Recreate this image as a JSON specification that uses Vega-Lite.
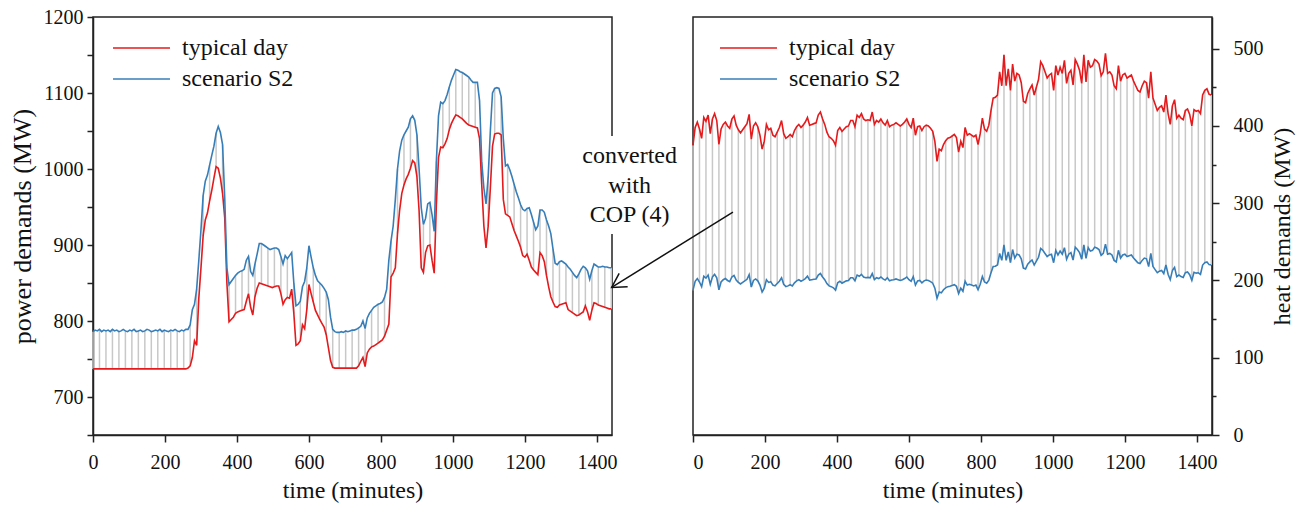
{
"$schema":"https://vega.github.io/schema/vega-lite/v6.json",
"background":"white",
"padding":{"left":8,"top":6,"right":4,"bottom":4},
"bounds":"flush",
"spacing":81,
"config":{
 "font":"Liberation Serif",
 "view":{"stroke":"#222","strokeWidth":1.5},
 "axis":{"grid":false,"labelFont":"Liberation Serif","labelFontSize":20,"labelColor":"#111","titleFont":"Liberation Serif","titleFontSize":24,"titleFontWeight":"normal","titleColor":"#111","domainColor":"#222","domainWidth":1.5,"tickColor":"#222","tickWidth":1.5},
 "legend":{"orient":"none","title":null,"symbolType":"M-3.5,0L3.5,0","symbolSize":265,"symbolStrokeWidth":1.6,"labelFont":"Liberation Serif","labelFontSize":24,"labelColor":"#111","labelOffset":28.5,"padding":0,"rowPadding":7,"legendY":19}
},
"datasets":{"d":[
{"t":0,"pt":737,"ps":786,"ht":375,"hs":187.5},
{"t":6,"pt":737,"ps":788,"ht":398,"hs":199},
{"t":12,"pt":737,"ps":787,"ht":405,"hs":202.5},
{"t":18,"pt":737,"ps":789,"ht":396,"hs":198},
{"t":24,"pt":737,"ps":786,"ht":384,"hs":192},
{"t":30,"pt":737,"ps":788,"ht":411,"hs":205.5},
{"t":36,"pt":737,"ps":787,"ht":406,"hs":203},
{"t":42,"pt":737,"ps":788,"ht":414,"hs":207},
{"t":48,"pt":737,"ps":786,"ht":390,"hs":195},
{"t":54,"pt":737,"ps":789,"ht":409,"hs":204.5},
{"t":60,"pt":737,"ps":787,"ht":416,"hs":208},
{"t":66,"pt":737,"ps":788,"ht":407,"hs":203.5},
{"t":72,"pt":737,"ps":786,"ht":376,"hs":188},
{"t":78,"pt":737,"ps":787,"ht":396,"hs":198},
{"t":84,"pt":737,"ps":789,"ht":402,"hs":201},
{"t":90,"pt":737,"ps":787,"ht":405,"hs":202.5},
{"t":96,"pt":737,"ps":786,"ht":400,"hs":200},
{"t":102,"pt":737,"ps":788,"ht":397,"hs":198.5},
{"t":108,"pt":737,"ps":787,"ht":409,"hs":204.5},
{"t":114,"pt":737,"ps":789,"ht":413,"hs":206.5},
{"t":120,"pt":737,"ps":786,"ht":401,"hs":200.5},
{"t":126,"pt":737,"ps":787,"ht":395,"hs":197.5},
{"t":132,"pt":737,"ps":788,"ht":391,"hs":195.5},
{"t":138,"pt":737,"ps":786,"ht":395,"hs":197.5},
{"t":144,"pt":737,"ps":787,"ht":399,"hs":199.5},
{"t":150,"pt":737,"ps":789,"ht":403,"hs":201.5},
{"t":156,"pt":737,"ps":788,"ht":415,"hs":207.5},
{"t":162,"pt":737,"ps":786,"ht":383,"hs":191.5},
{"t":168,"pt":737,"ps":787,"ht":400,"hs":200},
{"t":174,"pt":737,"ps":788,"ht":404,"hs":202},
{"t":180,"pt":737,"ps":787,"ht":399,"hs":199.5},
{"t":186,"pt":737,"ps":789,"ht":388,"hs":194},
{"t":192,"pt":737,"ps":786,"ht":370,"hs":185},
{"t":198,"pt":737,"ps":788,"ht":380,"hs":190},
{"t":204,"pt":737,"ps":787,"ht":402,"hs":201},
{"t":210,"pt":737,"ps":786,"ht":395,"hs":197.5},
{"t":216,"pt":737,"ps":788,"ht":397,"hs":198.5},
{"t":222,"pt":737,"ps":787,"ht":388,"hs":194},
{"t":228,"pt":737,"ps":789,"ht":386,"hs":193},
{"t":234,"pt":737,"ps":787,"ht":392,"hs":196},
{"t":240,"pt":737,"ps":786,"ht":398,"hs":199},
{"t":246,"pt":737,"ps":788,"ht":407,"hs":203.5},
{"t":252,"pt":737,"ps":787,"ht":390,"hs":195},
{"t":258,"pt":737,"ps":789,"ht":384,"hs":192},
{"t":264,"pt":738,"ps":789,"ht":386,"hs":193},
{"t":270,"pt":741,"ps":795,"ht":389,"hs":194.5},
{"t":276,"pt":752,"ps":815,"ht":386,"hs":193},
{"t":282,"pt":774,"ps":822,"ht":394,"hs":197},
{"t":288,"pt":768,"ps":842,"ht":399,"hs":199.5},
{"t":294,"pt":830,"ps":880,"ht":402,"hs":201},
{"t":300,"pt":870,"ps":920,"ht":398,"hs":199},
{"t":306,"pt":912,"ps":965,"ht":401,"hs":200.5},
{"t":312,"pt":933,"ps":984,"ht":405,"hs":202.5},
{"t":318,"pt":942,"ps":992,"ht":411,"hs":205.5},
{"t":324,"pt":958,"ps":1005,"ht":401,"hs":200.5},
{"t":330,"pt":972,"ps":1018,"ht":402,"hs":201},
{"t":336,"pt":988,"ps":1030,"ht":403,"hs":201.5},
{"t":342,"pt":1003,"ps":1047,"ht":404,"hs":202},
{"t":348,"pt":1001,"ps":1056,"ht":414,"hs":207},
{"t":354,"pt":988,"ps":1048,"ht":418,"hs":209},
{"t":360,"pt":968,"ps":1032,"ht":409,"hs":204.5},
{"t":366,"pt":936,"ps":962,"ht":402,"hs":201},
{"t":372,"pt":850,"ps":870,"ht":392,"hs":196},
{"t":378,"pt":799,"ps":848,"ht":386,"hs":193},
{"t":384,"pt":802,"ps":852,"ht":384,"hs":192},
{"t":390,"pt":805,"ps":856,"ht":381,"hs":190.5},
{"t":396,"pt":810,"ps":860,"ht":375,"hs":187.5},
{"t":402,"pt":812,"ps":863,"ht":394,"hs":197},
{"t":408,"pt":813,"ps":865,"ht":398,"hs":199},
{"t":414,"pt":814,"ps":866,"ht":393,"hs":196.5},
{"t":420,"pt":815,"ps":868,"ht":396,"hs":198},
{"t":426,"pt":826,"ps":880,"ht":399,"hs":199.5},
{"t":432,"pt":836,"ps":885,"ht":400,"hs":200},
{"t":438,"pt":818,"ps":865,"ht":407,"hs":203.5},
{"t":444,"pt":808,"ps":860,"ht":407,"hs":203.5},
{"t":450,"pt":832,"ps":875,"ht":399,"hs":199.5},
{"t":456,"pt":843,"ps":888,"ht":414,"hs":207},
{"t":462,"pt":850,"ps":902,"ht":411,"hs":205.5},
{"t":468,"pt":849,"ps":902,"ht":416,"hs":208},
{"t":474,"pt":848,"ps":900,"ht":409,"hs":204.5},
{"t":480,"pt":847,"ps":898,"ht":407,"hs":203.5},
{"t":486,"pt":846,"ps":896,"ht":408,"hs":204},
{"t":492,"pt":845,"ps":894,"ht":407,"hs":203.5},
{"t":498,"pt":844,"ps":895,"ht":418,"hs":209},
{"t":504,"pt":845,"ps":896,"ht":402,"hs":201},
{"t":510,"pt":846,"ps":896,"ht":407,"hs":203.5},
{"t":516,"pt":846,"ps":894,"ht":405,"hs":202.5},
{"t":522,"pt":836,"ps":885,"ht":409,"hs":204.5},
{"t":528,"pt":822,"ps":875,"ht":404,"hs":202},
{"t":534,"pt":828,"ps":886,"ht":401,"hs":200.5},
{"t":540,"pt":831,"ps":882,"ht":407,"hs":203.5},
{"t":546,"pt":830,"ps":886,"ht":399,"hs":199.5},
{"t":552,"pt":842,"ps":890,"ht":401,"hs":200.5},
{"t":558,"pt":810,"ps":850,"ht":402,"hs":201},
{"t":564,"pt":768,"ps":820,"ht":404,"hs":202},
{"t":570,"pt":770,"ps":822,"ht":402,"hs":201},
{"t":576,"pt":774,"ps":826,"ht":400,"hs":200},
{"t":582,"pt":795,"ps":845,"ht":402,"hs":201},
{"t":588,"pt":790,"ps":852,"ht":405,"hs":202.5},
{"t":594,"pt":815,"ps":870,"ht":409,"hs":204.5},
{"t":600,"pt":848,"ps":899,"ht":402,"hs":201},
{"t":606,"pt":836,"ps":884,"ht":398,"hs":199},
{"t":612,"pt":825,"ps":870,"ht":410,"hs":205},
{"t":618,"pt":814,"ps":860,"ht":388,"hs":194},
{"t":624,"pt":808,"ps":853,"ht":399,"hs":199.5},
{"t":630,"pt":802,"ps":850,"ht":400,"hs":200},
{"t":636,"pt":797,"ps":847,"ht":394,"hs":197},
{"t":642,"pt":792,"ps":843,"ht":399,"hs":199.5},
{"t":648,"pt":782,"ps":838,"ht":401,"hs":200.5},
{"t":654,"pt":765,"ps":828,"ht":400,"hs":200},
{"t":660,"pt":748,"ps":805,"ht":397,"hs":198.5},
{"t":666,"pt":739,"ps":789,"ht":393,"hs":196.5},
{"t":672,"pt":738,"ps":786,"ht":380,"hs":190},
{"t":678,"pt":738,"ps":785,"ht":354,"hs":177},
{"t":684,"pt":738,"ps":785,"ht":370,"hs":185},
{"t":690,"pt":738,"ps":786,"ht":368,"hs":184},
{"t":696,"pt":738,"ps":785,"ht":376,"hs":188},
{"t":702,"pt":738,"ps":787,"ht":381,"hs":190.5},
{"t":708,"pt":738,"ps":786,"ht":384,"hs":192},
{"t":714,"pt":738,"ps":787,"ht":385,"hs":192.5},
{"t":720,"pt":738,"ps":788,"ht":387,"hs":193.5},
{"t":726,"pt":738,"ps":788,"ht":389,"hs":194.5},
{"t":732,"pt":738,"ps":789,"ht":385,"hs":192.5},
{"t":738,"pt":741,"ps":791,"ht":366,"hs":183},
{"t":744,"pt":747,"ps":793,"ht":380,"hs":190},
{"t":750,"pt":752,"ps":800,"ht":372,"hs":186},
{"t":756,"pt":740,"ps":790,"ht":398,"hs":199},
{"t":762,"pt":758,"ps":804,"ht":388,"hs":194},
{"t":768,"pt":763,"ps":810,"ht":390,"hs":195},
{"t":774,"pt":766,"ps":814,"ht":388,"hs":194},
{"t":780,"pt":767,"ps":818,"ht":386,"hs":193},
{"t":786,"pt":769,"ps":820,"ht":388,"hs":194},
{"t":792,"pt":771,"ps":822,"ht":376,"hs":188},
{"t":798,"pt":773,"ps":823,"ht":390,"hs":195},
{"t":804,"pt":775,"ps":825,"ht":410,"hs":205},
{"t":810,"pt":780,"ps":831,"ht":396,"hs":198},
{"t":816,"pt":788,"ps":842,"ht":393,"hs":196.5},
{"t":822,"pt":796,"ps":880,"ht":401,"hs":200.5},
{"t":828,"pt":858,"ps":905,"ht":420,"hs":210},
{"t":834,"pt":863,"ps":925,"ht":436,"hs":218},
{"t":840,"pt":870,"ps":960,"ht":437,"hs":218.5},
{"t":846,"pt":915,"ps":1000,"ht":440,"hs":220},
{"t":852,"pt":946,"ps":1024,"ht":470,"hs":235},
{"t":858,"pt":968,"ps":1038,"ht":452,"hs":226},
{"t":864,"pt":979,"ps":1045,"ht":492,"hs":246},
{"t":870,"pt":987,"ps":1050,"ht":452,"hs":226},
{"t":876,"pt":993,"ps":1055,"ht":474,"hs":237},
{"t":882,"pt":1001,"ps":1066,"ht":446,"hs":223},
{"t":888,"pt":1011,"ps":1070,"ht":480,"hs":240},
{"t":894,"pt":1008,"ps":1064,"ht":458,"hs":229},
{"t":900,"pt":990,"ps":1045,"ht":468,"hs":234},
{"t":906,"pt":945,"ps":1000,"ht":466,"hs":233},
{"t":912,"pt":870,"ps":949,"ht":456,"hs":228},
{"t":918,"pt":864,"ps":927,"ht":432,"hs":216},
{"t":924,"pt":890,"ps":935,"ht":430,"hs":215},
{"t":930,"pt":899,"ps":954,"ht":442,"hs":221},
{"t":936,"pt":900,"ps":956,"ht":448,"hs":224},
{"t":942,"pt":880,"ps":940,"ht":453,"hs":226.5},
{"t":948,"pt":863,"ps":918,"ht":440,"hs":220},
{"t":954,"pt":954,"ps":1010,"ht":450,"hs":225},
{"t":960,"pt":1015,"ps":1070,"ht":460,"hs":230},
{"t":966,"pt":1029,"ps":1088,"ht":483,"hs":241.5},
{"t":972,"pt":1028,"ps":1086,"ht":478,"hs":239},
{"t":978,"pt":1033,"ps":1090,"ht":470,"hs":235},
{"t":984,"pt":1040,"ps":1098,"ht":462,"hs":231},
{"t":990,"pt":1052,"ps":1108,"ht":466,"hs":233},
{"t":996,"pt":1060,"ps":1117,"ht":468,"hs":234},
{"t":1002,"pt":1066,"ps":1124,"ht":446,"hs":223},
{"t":1008,"pt":1071,"ps":1131,"ht":478,"hs":239},
{"t":1014,"pt":1070,"ps":1130,"ht":466,"hs":233},
{"t":1020,"pt":1068,"ps":1128,"ht":476,"hs":238},
{"t":1026,"pt":1066,"ps":1127,"ht":468,"hs":234},
{"t":1032,"pt":1063,"ps":1125,"ht":485,"hs":242.5},
{"t":1038,"pt":1060,"ps":1123,"ht":455,"hs":227.5},
{"t":1044,"pt":1058,"ps":1121,"ht":468,"hs":234},
{"t":1050,"pt":1057,"ps":1117,"ht":472,"hs":236},
{"t":1056,"pt":1056,"ps":1114,"ht":453,"hs":226.5},
{"t":1062,"pt":1055,"ps":1114,"ht":486,"hs":243},
{"t":1068,"pt":1054,"ps":1114,"ht":480,"hs":240},
{"t":1074,"pt":1040,"ps":1090,"ht":472,"hs":236},
{"t":1080,"pt":980,"ps":1010,"ht":455,"hs":227.5},
{"t":1086,"pt":925,"ps":975,"ht":492,"hs":246},
{"t":1092,"pt":896,"ps":954,"ht":457,"hs":228.5},
{"t":1098,"pt":925,"ps":990,"ht":485,"hs":242.5},
{"t":1104,"pt":975,"ps":1050,"ht":476,"hs":238},
{"t":1110,"pt":1030,"ps":1100,"ht":478,"hs":239},
{"t":1116,"pt":1046,"ps":1106,"ht":486,"hs":243},
{"t":1122,"pt":1047,"ps":1107,"ht":484,"hs":242},
{"t":1128,"pt":1047,"ps":1106,"ht":480,"hs":240},
{"t":1134,"pt":1045,"ps":1095,"ht":465,"hs":232.5},
{"t":1140,"pt":960,"ps":1040,"ht":470,"hs":235},
{"t":1146,"pt":941,"ps":1004,"ht":494,"hs":247},
{"t":1152,"pt":939,"ps":1006,"ht":468,"hs":234},
{"t":1158,"pt":937,"ps":999,"ht":470,"hs":235},
{"t":1164,"pt":928,"ps":990,"ht":466,"hs":233},
{"t":1170,"pt":919,"ps":980,"ht":452,"hs":226},
{"t":1176,"pt":912,"ps":970,"ht":448,"hs":224},
{"t":1182,"pt":905,"ps":962,"ht":478,"hs":239},
{"t":1188,"pt":897,"ps":953,"ht":458,"hs":229},
{"t":1194,"pt":886,"ps":947,"ht":466,"hs":233},
{"t":1200,"pt":884,"ps":945,"ht":468,"hs":234},
{"t":1206,"pt":888,"ps":948,"ht":462,"hs":231},
{"t":1212,"pt":880,"ps":949,"ht":464,"hs":232},
{"t":1218,"pt":871,"ps":940,"ht":466,"hs":233},
{"t":1224,"pt":867,"ps":930,"ht":458,"hs":229},
{"t":1230,"pt":864,"ps":920,"ht":452,"hs":226},
{"t":1236,"pt":861,"ps":925,"ht":446,"hs":223},
{"t":1242,"pt":890,"ps":946,"ht":444,"hs":222},
{"t":1248,"pt":886,"ps":946,"ht":452,"hs":226},
{"t":1254,"pt":878,"ps":943,"ht":458,"hs":229},
{"t":1260,"pt":860,"ps":933,"ht":456,"hs":228},
{"t":1266,"pt":845,"ps":925,"ht":436,"hs":218},
{"t":1272,"pt":832,"ps":915,"ht":470,"hs":235},
{"t":1278,"pt":825,"ps":895,"ht":436,"hs":218},
{"t":1284,"pt":819,"ps":876,"ht":428,"hs":214},
{"t":1290,"pt":818,"ps":874,"ht":420,"hs":210},
{"t":1296,"pt":821,"ps":878,"ht":424,"hs":212},
{"t":1302,"pt":822,"ps":879,"ht":426,"hs":213},
{"t":1308,"pt":823,"ps":877,"ht":418,"hs":209},
{"t":1314,"pt":824,"ps":875,"ht":440,"hs":220},
{"t":1320,"pt":815,"ps":871,"ht":416,"hs":208},
{"t":1326,"pt":813,"ps":868,"ht":402,"hs":201},
{"t":1332,"pt":811,"ps":864,"ht":426,"hs":213},
{"t":1338,"pt":809,"ps":860,"ht":434,"hs":217},
{"t":1344,"pt":807,"ps":857,"ht":410,"hs":205},
{"t":1350,"pt":808,"ps":862,"ht":414,"hs":207},
{"t":1356,"pt":810,"ps":868,"ht":410,"hs":205},
{"t":1362,"pt":812,"ps":872,"ht":408,"hs":204},
{"t":1368,"pt":820,"ps":870,"ht":420,"hs":210},
{"t":1374,"pt":812,"ps":866,"ht":422,"hs":211},
{"t":1380,"pt":801,"ps":855,"ht":415,"hs":207.5},
{"t":1386,"pt":814,"ps":866,"ht":400,"hs":200},
{"t":1392,"pt":824,"ps":875,"ht":421,"hs":210.5},
{"t":1398,"pt":823,"ps":873,"ht":419,"hs":209.5},
{"t":1404,"pt":821,"ps":871,"ht":420,"hs":210},
{"t":1410,"pt":820,"ps":871,"ht":416,"hs":208},
{"t":1416,"pt":819,"ps":872,"ht":440,"hs":220},
{"t":1422,"pt":818,"ps":871,"ht":446,"hs":223},
{"t":1428,"pt":817,"ps":871,"ht":448,"hs":224},
{"t":1434,"pt":816,"ps":870,"ht":441,"hs":220.5},
{"t":1440,"pt":816,"ps":870,"ht":440,"hs":220}
]},
"hconcat":[
{"width":519,"height":418,"data":{"name":"d"},
 "layer":[
  {"transform":[{"filter":"datum.t % 18 === 0"}],
   "mark":{"type":"rule","color":"#c8c8c8","strokeWidth":1.5},
   "encoding":{
    "x":{"field":"t","type":"quantitative","scale":{"domain":[0,1442],"nice":false,"zero":false},
      "axis":{"title":"time (minutes)","format":"d","values":[0,100,200,300,400,500,600,700,800,900,1000,1100,1200,1300,1400],"labelExpr":"datum.value % 200 === 0 ? datum.label : ''","tickSize":{"condition":{"test":"datum.value % 200 === 0","value":7},"value":4},"labelPadding":10,"labelFlush":false,"labelOverlap":false,"titlePadding":6}},
    "y":{"field":"pt","type":"quantitative","scale":{"domain":[650,1200],"nice":false,"zero":false},
      "axis":{"title":"power demands (MW)","titleFontSize":26,"format":"d","tickCount":12,"labelExpr":"datum.value % 100 === 0 ? datum.label : ''","labelOverlap":false,"tickSize":6,"labelPadding":4,"titlePadding":8}},
    "y2":{"field":"ps"}}},
  {"transform":[{"fold":["pt","ps"],"as":["series","value"]}],
   "mark":{"type":"line","strokeWidth":1.6},
   "encoding":{
    "x":{"field":"t","type":"quantitative"},
    "y":{"field":"value","type":"quantitative"},
    "color":{"field":"series","type":"nominal","scale":{"domain":["pt","ps"],"range":["#e41a1c","#377eb8"]},
      "legend":{"legendX":36.5,"labelExpr":"datum.value === 'pt' ? 'typical day' : 'scenario S2'"}}}}
 ]},
{"width":519,"height":418,"data":{"name":"d"},
 "layer":[
  {"transform":[{"filter":"datum.t % 18 === 0"}],
   "mark":{"type":"rule","color":"#c8c8c8","strokeWidth":1.5},
   "encoding":{
    "x":{"field":"t","type":"quantitative","scale":{"domain":[0,1442],"nice":false,"zero":false},
      "axis":{"title":"time (minutes)","format":"d","values":[0,100,200,300,400,500,600,700,800,900,1000,1100,1200,1300,1400],"labelExpr":"datum.value % 200 === 0 ? datum.label : ''","tickSize":{"condition":{"test":"datum.value % 200 === 0","value":7},"value":4},"labelPadding":10,"labelFlush":true,"labelOverlap":false,"titlePadding":6}},
    "y":{"field":"ht","type":"quantitative","scale":{"domain":[0,541],"nice":false,"zero":false},
      "axis":{"orient":"right","title":"heat demands (MW)","titleAngle":270,"titleBaseline":"top","format":"d","values":[0,50,100,150,200,250,300,350,400,450,500],"labelExpr":"datum.value % 100 === 0 ? datum.label : ''","tickSize":{"condition":{"test":"datum.value % 100 === 0","value":7},"value":4},"labelPadding":14,"labelFlush":false,"labelOverlap":false,"titlePadding":7}},
    "y2":{"field":"hs"}}},
  {"transform":[{"fold":["ht","hs"],"as":["series","value"]}],
   "mark":{"type":"line","strokeWidth":1.6},
   "encoding":{
    "x":{"field":"t","type":"quantitative","axis":{"title":"time (minutes)"}},
    "y":{"field":"value","type":"quantitative","axis":{"title":"heat demands (MW)"}},
    "color":{"field":"series","type":"nominal","scale":{"domain":["ht","hs"],"range":["#e41a1c","#377eb8"]},
      "legend":{"legendX":43.5,"labelExpr":"datum.value === 'ht' ? 'typical day' : 'scenario S2'"}}}},
  {"data":{"values":[{}]},"mark":{"type":"rect","color":"white"},
   "encoding":{"x":{"datum":-319,"type":"quantitative"},"x2":{"datum":-36},"y":{"datum":387,"type":"quantitative"},"y2":{"datum":260}}},
  {"data":{"values":[{}]},"mark":{"type":"text","text":["converted","with","COP (4)"],"fontSize":24,"lineHeight":29.5,"font":"Liberation Serif","color":"#111","align":"center","baseline":"middle"},
   "encoding":{"x":{"datum":-176,"type":"quantitative"},"y":{"datum":361,"type":"quantitative"}}},
  {"data":{"values":[{}]},"mark":{"type":"rule","color":"#111","strokeWidth":1.5},
   "encoding":{"x":{"datum":111,"type":"quantitative"},"y":{"datum":288.6,"type":"quantitative"},"x2":{"datum":-226},"y2":{"datum":191}}},
  {"data":{"values":[{}]},"mark":{"type":"point","shape":"M-0.866,-0.5L0,0L-0.866,0.5","size":1024,"angle":148,"filled":false,"color":"#111","strokeWidth":1.5,"opacity":1},
   "encoding":{"x":{"datum":-226,"type":"quantitative"},"y":{"datum":191,"type":"quantitative"}}}
 ]}
],
"resolve":{"scale":{"color":"independent"},"legend":{"color":"independent"}}
}
